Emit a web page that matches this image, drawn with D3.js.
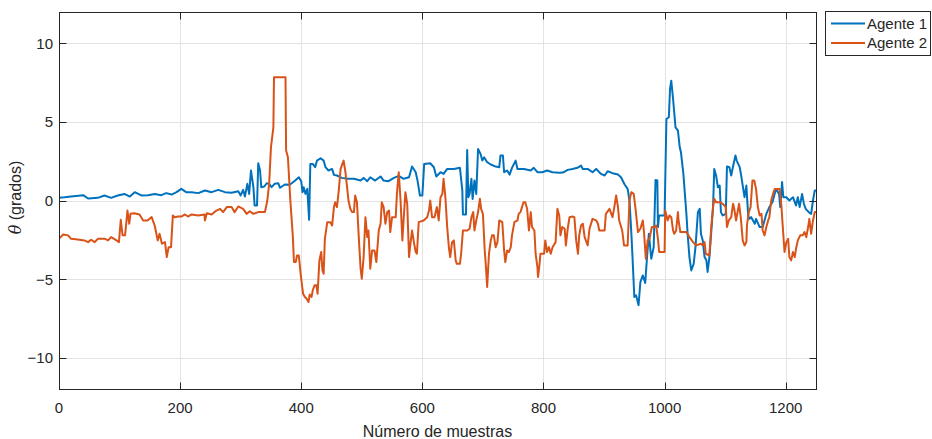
<!DOCTYPE html>
<html>
<head>
<meta charset="utf-8">
<script src="https://cdn.jsdelivr.net/npm/d3@7"></script>
<style>
  html, body { margin: 0; padding: 0; background: #ffffff; }
  svg { display: block; }
  text { font-family: "Liberation Sans", Arial, Helvetica, sans-serif; fill: #262626; }
</style>
</head>
<body>
<svg id="chart" width="932" height="439"></svg>
<script>
// Heading angle of each agent per sample (degrees)
const agent1Samples = [0,9,20,40,48,64,75,86,97,108,117,125,136,147,158,169,177,186,194,202,210,219,230,241,252,263,274,285,296,300,304,307,311,314,317,321,323,327,329,332,334,339,343,347,351,356,362,365,373,381,390,396,400,402,404,407,410,413,415,419,423,426,432,437,440,445,451,454,459,467,476,487,498,503,509,514,522,531,536,544,553,561,569,578,583,589,592,596,600,603,613,619,623,630,635,641,652,662,666,667,672,674,676,678,681,683,686,689,692,696,699,702,707,713,721,727,729,733,735,740,744,748,754,757,768,779,784,790,798,806,815,826,832,840,848,856,862,865,873,881,887,895,901,906,914,923,928,934,939,942,945,947,950,953,957,960,964,968,971,974,978,982,985,988,989,991,1000,1003,1007,1009,1011,1014,1018,1022,1025,1027,1031,1036,1038,1041,1044,1048,1051,1055,1058,1060,1063,1066,1069,1071,1074,1077,1080,1082,1085,1088,1091,1093,1096,1101,1103,1107,1110,1113,1117,1119,1124,1126,1129,1132,1135,1138,1140,1143,1149,1151,1157,1162,1168,1173,1178,1184,1189,1191,1194,1196,1201,1206,1212,1217,1220,1223,1227,1230,1233,1238,1242,1245,1248,1250];
const agent1Values = [0.17,0.2,0.25,0.34,0.13,0.17,0.32,0.17,0.32,0.42,0.25,0.53,0.32,0.34,0.42,0.34,0.47,0.38,0.53,0.74,0.53,0.53,0.47,0.64,0.53,0.68,0.53,0.49,0.59,0.32,0.68,0.25,1.06,0.42,1.91,0.85,-0.32,-0.32,2.37,1.91,0.85,0.89,1.10,1.06,0.85,1.06,1.10,0.81,1.02,1.0,1.27,1.48,1.23,0.53,0.85,0.42,0.74,-1.23,2.33,2.33,2.12,2.54,2.69,2.54,2.12,1.91,2.01,1.63,1.59,1.44,1.38,1.38,1.27,1.44,1.23,1.48,1.27,1.53,1.27,1.23,1.44,1.57,1.38,1.48,2.16,1.80,1.27,0.32,0.32,2.33,2.37,2.12,1.53,1.80,1.69,2.01,2.01,2.08,0.64,-0.89,-0.89,3.22,0.21,0.42,1.38,0.10,1.27,0.42,3.28,2.97,2.54,2.75,2.44,2.29,2.16,2.12,2.86,2.86,1.80,1.91,1.65,2.08,2.54,2.01,2.01,1.91,2.08,1.80,1.80,1.91,1.80,1.76,1.78,1.95,2.01,2.08,2.22,2.01,2.01,1.80,2.01,1.69,1.59,1.86,1.74,1.65,1.48,1.02,0.74,0,-2.01,-3.60,-6.14,-6.04,-6.67,-5.19,-4.77,-5.25,-3.60,-2.12,-3.71,-2.97,1.31,1.27,-1.69,-0.95,-0.95,5.19,5.30,7.10,7.63,6.46,4.66,4.45,3.39,3.07,1.69,-0.85,-2.12,-3.60,-4.45,-4.03,-2.97,-0.74,-0.53,-2.12,-2.54,-3.60,-3.81,-4.55,-3.60,-2.01,-0.42,2.01,1.59,0.85,0.95,-0.74,-0.95,-0.85,2.16,2.12,1.59,2.16,2.86,2.54,2.12,1.69,0.95,0.21,0.95,-0.95,-1.17,-1.06,-1.48,-1.17,-1.69,-1.69,-0.85,-0.42,-0.11,0.74,0.42,-0.42,1.17,0.21,0.21,0,0.21,-0.32,0.21,-0.42,0.42,-0.21,-0.53,-0.74,-0.85,0,0.64,0.64];

const agent2Samples = [0,7,15,20,31,42,48,53,59,64,76,81,86,95,99,102,105,109,111,113,116,118,124,133,139,146,153,158,163,166,170,175,178,181,185,188,191,197,202,208,213,219,230,240,241,244,252,260,266,271,277,285,290,296,304,310,315,321,329,340,344,347,350,354,355,374,375,378,382,386,388,391,393,396,399,401,403,406,409,412,414,417,419,422,425,427,430,433,435,437,439,443,448,451,454,456,459,462,465,467,470,473,476,478,481,484,487,489,492,495,498,500,503,506,509,511,514,517,521,524,528,531,533,536,539,542,545,547,550,556,558,561,564,567,569,572,575,578,580,583,586,589,591,594,602,608,611,613,616,620,624,627,630,633,635,638,641,644,646,649,652,655,657,662,664,667,674,678,681,684,686,689,692,695,697,700,703,705,707,710,713,715,718,721,724,727,732,735,737,740,743,746,748,752,757,759,762,767,770,773,776,779,781,785,787,790,791,793,795,801,803,806,809,812,815,820,823,826,828,831,835,837,840,843,848,851,854,857,859,862,865,868,873,876,881,887,890,892,901,903,909,914,917,920,923,925,930,933,939,942,945,949,952,956,960,964,966,969,972,975,979,983,986,989,991,1000,1001,1005,1008,1011,1014,1016,1019,1022,1023,1026,1036,1041,1047,1052,1060,1063,1066,1068,1074,1077,1080,1082,1085,1091,1096,1101,1103,1106,1110,1113,1115,1118,1123,1126,1129,1132,1135,1136,1139,1142,1145,1148,1151,1154,1157,1160,1162,1165,1168,1171,1173,1176,1179,1182,1190,1193,1195,1198,1201,1204,1206,1209,1212,1215,1217,1220,1224,1228,1231,1234,1237,1239,1242,1245,1248,1250];
const agent2Values = [-2.44,-2.16,-2.22,-2.44,-2.48,-2.54,-2.65,-2.50,-2.65,-2.44,-2.44,-2.54,-2.33,-2.54,-2.65,-1.23,-2.22,-2.22,-1.48,-0.64,-1.48,-0.85,-0.81,-0.89,-1.27,-1.27,-1.06,-1.59,-2.54,-2.12,-2.75,-2.65,-3.60,-2.97,-2.97,-0.95,-1.06,-1.02,-1.02,-0.89,-1.02,-0.89,-0.95,-0.89,-1.27,-0.81,-0.89,-0.64,-0.53,-0.74,-0.42,-0.42,-0.74,-0.38,-0.53,-0.85,-0.68,-0.85,-0.74,-0.74,0,1.06,3.39,4.66,7.84,7.84,3.18,2.75,0,-2.22,-3.92,-3.92,-3.50,-3.50,-4.66,-5.30,-5.93,-6.14,-6.25,-6.46,-5.99,-6.14,-5.72,-5.40,-5.40,-5.93,-3.81,-3.28,-4.45,-4.66,-2.44,-1.38,-1.38,-1.59,-0.42,-0.11,-0.42,0.64,2.01,2.22,2.54,1.80,0.74,0,-0.53,-0.74,-0.74,0.32,-0.11,-2.33,-4.34,-4.98,-3.60,-1.06,-2.33,-1.91,-4.34,-3.18,-3.18,-3.92,-1.91,-1.48,-0.11,-0.42,-1.48,-0.74,-0.64,-2.01,-1.06,-1.06,0.42,1.80,0,-2.54,-1.27,0.53,-0.21,-3.60,-2.86,-1.91,-2.65,-3.28,-3.39,-1.38,-1.27,-1.06,-0.64,0,-1.06,-1.06,-0.42,-1.27,0.21,0.42,1.38,0.21,-1.69,-3.07,-3.60,-2.65,-2.54,-3.81,-4.03,-4.03,-3.39,-1.91,-1.91,-1.80,-1.06,-0.74,-1.91,-1.27,-0.74,0.11,-0.53,-0.85,-3.18,-4.24,-5.51,-3.39,-2.54,-2.22,-2.22,-2.97,-2.65,-1.27,-1.38,-3.18,-3.92,-3.18,-3.28,-2.97,-2.22,-1.38,-1.27,-0.85,-0.74,-0.11,-0.11,-0.53,-1.91,-0.74,-1.69,-1.91,-3.39,-4.24,-4.87,-4.24,-3.39,-3.39,-2.54,-3.28,-2.97,-3.39,-2.97,-2.65,-0.53,-0.95,-2.22,-1.69,-1.80,-2.86,-1.80,-1.06,-1.02,-1.06,-2.54,-3.39,-2.22,-1.59,-1.48,-2.33,-2.86,-1.80,-1.17,-1.27,-1.48,-1.91,-1.91,-0.85,-0.53,-1.06,-0.42,0.32,-0.42,-1.27,-1.91,-2.86,-2.86,0,0.53,0.42,-0.53,-2.01,-1.80,-1.27,-2.01,-3.71,-2.54,-2.44,-1.69,-1.69,-1.59,-2.44,-3.28,-3.28,-0.64,-1.27,-0.95,-1.06,-1.91,-2.12,-1.91,-0.74,-1.27,-2.01,-2.01,-2.33,-2.65,-2.86,-2.75,-2.86,-2.65,-3.39,-3.50,-1.69,-0.42,0.11,-0.11,-0.11,-0.21,-0.42,-1.69,-1.27,-1.06,-0.21,-0.53,-1.27,-0.21,-1.17,-2.54,-2.86,-2.65,-1.59,-0.74,-0.42,1.27,1.27,0.74,-0.42,-0.95,-0.85,-1.91,-2.22,-1.69,-1.27,-1.06,0,0.42,0.74,0.74,-0.42,-1.59,-3.28,-2.65,-2.44,-3.60,-3.81,-3.28,-3.60,-3.07,-2.54,-2.22,-2.22,-2.01,-2.33,-1.69,-1.17,-2.12,-1.27,-0.74,-0.74];

const seriesNames = ["Agente 1", "Agente 2"];
const seriesColors = ["#0072BD", "#D95319"];
const xTicks = [0, 200, 400, 600, 800, 1000, 1200];
const yTicks = [-10, -5, 0, 5, 10];
const xDomain = [0, 1250];
const yDomain = [-12, 12];
const xLabel = "Número de muestras";
const yLabelSymbol = "θ";
const yLabelRest = " (grados)";

const svg = d3.select("#chart");
const plot = { left: 59, right: 816, top: 12, bottom: 389 };
const axisColor = "#262626";
const gridColor = "#e3e3e3";
const tickLen = 7;

const x = d3.scaleLinear().domain(xDomain).range([plot.left, plot.right]);
const y = d3.scaleLinear().domain(yDomain).range([plot.bottom, plot.top]);
const crisp = v => Math.round(v) + 0.5;

// grid
const grid = svg.append("g");
grid.selectAll("line.gx").data(xTicks.filter(t => t > 0)).join("line")
  .attr("x1", d => crisp(x(d))).attr("x2", d => crisp(x(d)))
  .attr("y1", plot.top).attr("y2", plot.bottom)
  .attr("stroke", gridColor).attr("stroke-width", 1);
grid.selectAll("line.gy").data(yTicks).join("line")
  .attr("y1", d => crisp(y(d))).attr("y2", d => crisp(y(d)))
  .attr("x1", plot.left).attr("x2", plot.right)
  .attr("stroke", gridColor).attr("stroke-width", 1);

// data lines
svg.append("defs").append("clipPath").attr("id", "plotClip")
  .append("rect").attr("x", plot.left).attr("y", plot.top)
  .attr("width", plot.right - plot.left).attr("height", plot.bottom - plot.top);

const line = d3.line().x(d => x(d[0])).y(d => y(d[1]));
const seriesData = [
  d3.zip(agent1Samples, agent1Values),
  d3.zip(agent2Samples, agent2Values)
];
const lines = svg.append("g").attr("clip-path", "url(#plotClip)");
seriesData.forEach((pts, i) => {
  lines.append("path").datum(pts)
    .attr("d", line)
    .attr("fill", "none")
    .attr("stroke", seriesColors[i])
    .attr("stroke-width", 2)
    .attr("stroke-linejoin", "round");
});

// axes box with inward ticks on all sides
const axes = svg.append("g");
const bx0 = crisp(plot.left), bx1 = crisp(plot.right);
const by0 = crisp(plot.top), by1 = crisp(plot.bottom);
axes.append("rect").attr("x", bx0).attr("y", by0)
  .attr("width", bx1 - bx0).attr("height", by1 - by0)
  .attr("fill", "none").attr("stroke", axisColor).attr("stroke-width", 1);

xTicks.forEach(t => {
  const px = crisp(x(t));
  axes.append("line").attr("x1", px).attr("x2", px).attr("y1", by1).attr("y2", by1 - tickLen)
    .attr("stroke", axisColor);
  axes.append("line").attr("x1", px).attr("x2", px).attr("y1", by0).attr("y2", by0 + tickLen)
    .attr("stroke", axisColor);
});
yTicks.forEach(t => {
  const py = crisp(y(t));
  axes.append("line").attr("x1", bx0).attr("x2", bx0 + tickLen).attr("y1", py).attr("y2", py)
    .attr("stroke", axisColor);
  axes.append("line").attr("x1", bx1).attr("x2", bx1 - tickLen).attr("y1", py).attr("y2", py)
    .attr("stroke", axisColor);
});

// tick labels
axes.selectAll("text.xt").data(xTicks).join("text")
  .attr("x", d => x(d)).attr("y", 413)
  .attr("text-anchor", "middle").attr("font-size", 15)
  .text(d => d3.format("d")(d));
axes.selectAll("text.yt").data(yTicks).join("text")
  .attr("x", 53).attr("y", d => y(d) + 5.5)
  .attr("text-anchor", "end").attr("font-size", 15)
  .text(d => d3.format("d")(d));

// axis labels
svg.append("text").attr("x", (plot.left + plot.right) / 2).attr("y", 437)
  .attr("text-anchor", "middle").attr("font-size", 16).text(xLabel);
const yl = svg.append("text")
  .attr("transform", `translate(21,${(plot.top + plot.bottom) / 2 - 3}) rotate(-90)`)
  .attr("text-anchor", "middle").attr("font-size", 16);
yl.append("tspan").attr("font-style", "italic").attr("font-family", "'DejaVu Serif', 'Liberation Serif', serif").text(yLabelSymbol);
yl.append("tspan").text(yLabelRest);

// legend
const legend = svg.append("g");
legend.append("rect").attr("x", 825.5).attr("y", 11.5).attr("width", 105).attr("height", 44)
  .attr("fill", "#ffffff").attr("stroke", axisColor).attr("stroke-width", 1);
seriesNames.forEach((name, i) => {
  const ly = 23.5 + i * 19.5;
  legend.append("line").attr("x1", 831).attr("x2", 865).attr("y1", ly).attr("y2", ly)
    .attr("stroke", seriesColors[i]).attr("stroke-width", 2);
  legend.append("text").attr("x", 867).attr("y", ly + 5).attr("font-size", 15).text(name);
});
</script>
</body>
</html>
